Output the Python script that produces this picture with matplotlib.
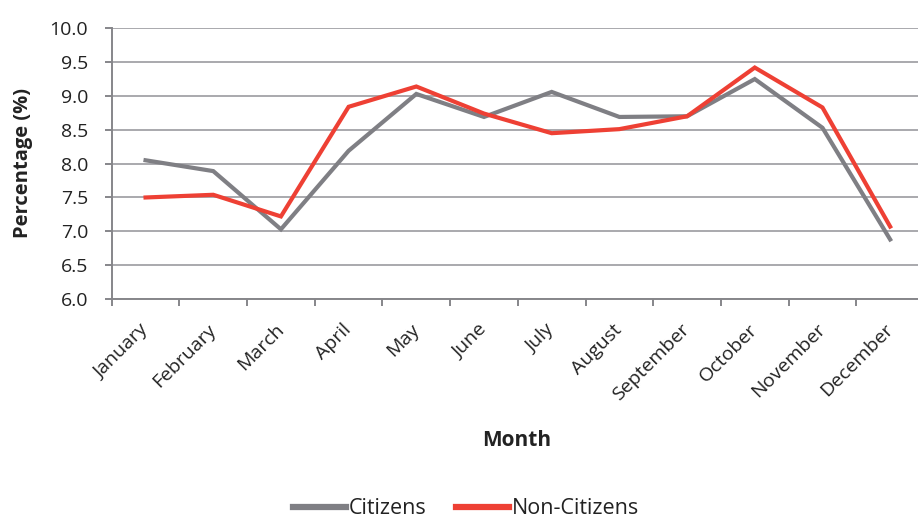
import matplotlib
matplotlib.use("Agg")
import matplotlib.pyplot as plt
import matplotlib.transforms as mtrans
import numpy as np

months = ["January", "February", "March", "April", "May", "June", "July",
          "August", "September", "October", "November", "December"]
citizens = [8.05, 7.89, 7.03, 8.19, 9.03, 8.69, 9.06, 8.69, 8.70, 9.25, 8.53, 6.88]
non_citizens = [7.50, 7.54, 7.22, 8.84, 9.14, 8.74, 8.45, 8.51, 8.70, 9.42, 8.83, 7.07]
y_ticks = [6.0, 6.5, 7.0, 7.5, 8.0, 8.5, 9.0, 9.5, 10.0]

plt.rcParams['font.family'] = ['Open Sans', 'DejaVu Sans']

W, H = 918, 518
fig = plt.figure(figsize=(W / 100, H / 100), dpi=100)
left, right, top, bottom = 111.7 / W, 924 / W, 1 - 28.3 / H, 1 - 299 / H
ax = fig.add_axes([left, bottom, right - left, top - bottom])

x = np.arange(len(months))
grid_c = "#A9A9AD"
axis_c = "#86868A"
txt_c = "#222222"
for v in y_ticks:
    ax.axhline(v, color=grid_c, lw=1.4, zorder=0)

ax.plot(x, citizens, color="#7F7F84", lw=3.0, label="Citizens", solid_joinstyle='miter', zorder=3)
ax.plot(x, non_citizens, color="#EE4034", lw=3.0, label="Non-Citizens", solid_joinstyle='miter', zorder=4)

ax.set_xlim(-0.5, 11.5)
ax.set_ylim(6.0, 10.0)
ax.set_yticks(y_ticks)
ax.set_yticklabels([f"{v:.1f}" for v in y_ticks], fontsize=14, color=txt_c)
ax.set_xticks(x)
ax.set_xticklabels(months, rotation=45, ha='right', va='center', rotation_mode='anchor',
                   fontsize=14, color=txt_c)
off = mtrans.ScaledTranslation(6 / 100, 0, fig.dpi_scale_trans)
for lab in ax.get_xticklabels():
    lab.set_transform(lab.get_transform() + off)
ax.set_xticks(np.arange(-0.5, 12, 1), minor=True)
ax.tick_params(axis='x', which='major', length=0, pad=20)
ax.tick_params(axis='x', which='minor', length=5, width=1.4, color=axis_c, direction='out')
ax.tick_params(axis='y', length=5, width=1.4, color=axis_c, pad=12)

for s in ['top', 'right']:
    ax.spines[s].set_visible(False)
for s in ['left', 'bottom']:
    ax.spines[s].set_color(axis_c)
    ax.spines[s].set_linewidth(1.4)

fig.text(23 / W, 1 - 163 / H, "Percentage (%)", rotation=90, ha='center', va='center',
         fontsize=14.5, fontweight='bold', color=txt_c)
fig.text(517 / W, 1 - 440 / H, "Month", ha='center', va='center',
         fontsize=15, fontweight='bold', color=txt_c)

leg = fig.legend(loc='center', bbox_to_anchor=(466 / W, 1 - 509 / H), ncol=2, frameon=False,
                 fontsize=15.5, handlelength=2.45, handletextpad=0.15, columnspacing=1.35,
                 borderpad=0, borderaxespad=0)
for t in leg.get_texts():
    t.set_color(txt_c)
for h in leg.get_lines():
    h.set_linewidth(4.5)

fig.savefig("out.png", dpi=100)
